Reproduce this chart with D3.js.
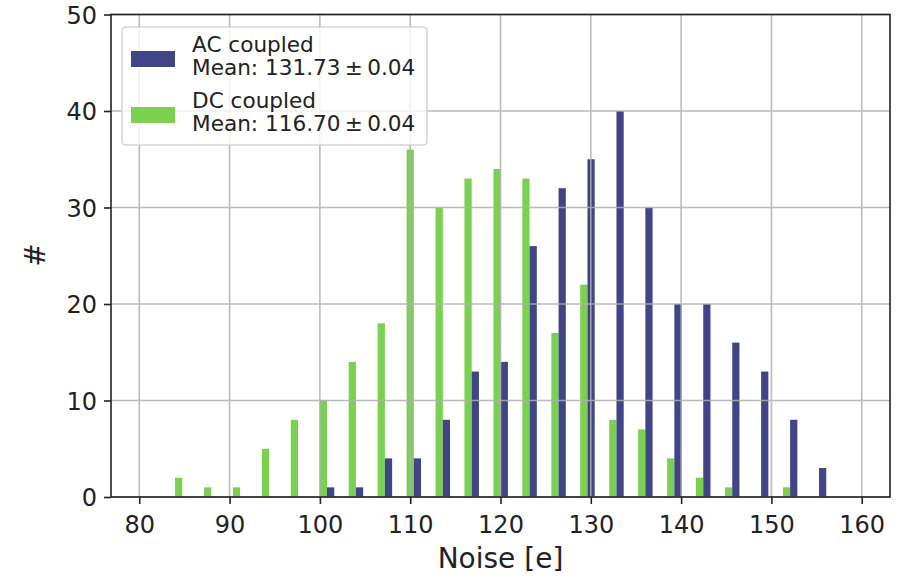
<!DOCTYPE html>
<html>
<head>
<meta charset="utf-8">
<script src="https://cdn.jsdelivr.net/npm/d3@7"></script>
<style>
  html, body { margin: 0; padding: 0; background: #fff; }
  svg { display: block; font-family: "DejaVu Sans", sans-serif; }
</style>
</head>
<body>
<svg id="chart" width="899" height="577"></svg>
<script>
// ---- data ----
const binCenters = [84.76, 87.97, 91.17, 94.38, 97.58, 100.79, 103.99, 107.20, 110.40, 113.61,
                    116.81, 120.02, 123.22, 126.43, 129.63, 132.84, 136.04, 139.25, 142.45,
                    145.66, 148.86, 152.07, 155.27];
const binWidth = 3.205;
const dcCounts = [2, 1, 1, 5, 8, 10, 14, 18, 36, 30, 33, 34, 33, 17, 22, 8, 7, 4, 2, 1, 0, 1, 0];
const acCounts = [0, 0, 0, 0, 0, 1, 1, 4, 4, 8, 13, 14, 26, 32, 35, 40, 30, 20, 20, 16, 13, 8, 3];
const seriesNames = ["AC coupled", "DC coupled"];
const seriesMeans = ["Mean: 131.73\u2009\u00B1\u20090.04", "Mean: 116.70\u2009\u00B1\u20090.04"];
const xTicks = [80, 90, 100, 110, 120, 130, 140, 150, 160];
const yTicks = [0, 10, 20, 30, 40, 50];
const xLabel = "Noise [e]";
const yLabel = "#";
const colors = { ac: "#414487", dc: "#7ad151" };

// ---- layout ----
const L = 111, R = 890, T = 14.5, B = 497;
const svg = d3.select("#chart");
const x = d3.scaleLinear().domain([76.87, 163.13]).range([L, R]);
const y = d3.scaleLinear().domain([0, 50]).range([B, T]);
const barW = x(binWidth) - x(0);
const half = barW * 0.25;

const bins = binCenters.map((c, i) => ({ c, dc: dcCounts[i], ac: acCounts[i] }));

// bars (below grid)
const gBars = svg.append("g");
gBars.selectAll("rect.dc").data(bins).join("rect")
  .attr("class", "dc")
  .attr("x", d => x(d.c) - half)
  .attr("width", half)
  .attr("y", d => y(d.dc))
  .attr("height", d => y(0) - y(d.dc))
  .attr("fill", colors.dc);
gBars.selectAll("rect.ac").data(bins).join("rect")
  .attr("class", "ac")
  .attr("x", d => x(d.c))
  .attr("width", half)
  .attr("y", d => y(d.ac))
  .attr("height", d => y(0) - y(d.ac))
  .attr("fill", colors.ac);

// grid
const gGrid = svg.append("g").attr("stroke", "#b0b0b0").attr("stroke-width", 1.6).attr("opacity", 0.85);
gGrid.selectAll("line.vx").data(xTicks).join("line")
  .attr("x1", d => x(d)).attr("x2", d => x(d)).attr("y1", T).attr("y2", B);
gGrid.selectAll("line.hy").data(yTicks).join("line")
  .attr("x1", L).attr("x2", R).attr("y1", d => y(d)).attr("y2", d => y(d));

// axes
const xAxis = d3.axisBottom(x).tickValues(xTicks).tickSize(7).tickPadding(7).tickFormat(d3.format("d"));
const yAxis = d3.axisLeft(y).tickValues(yTicks).tickSize(7).tickPadding(7).tickFormat(d3.format("d"));
const gx = svg.append("g").attr("transform", `translate(0,${B})`).call(xAxis);
const gy = svg.append("g").attr("transform", `translate(${L},0)`).call(yAxis);
[gx, gy].forEach(g => {
  g.select(".domain").remove();
  g.selectAll(".tick line").attr("stroke", "#222").attr("stroke-width", 1.6);
  g.selectAll(".tick text").attr("fill", "#222").attr("font-size", 24)
    .attr("font-family", "DejaVu Sans");
});
gx.selectAll(".tick text").attr("dy", null).attr("y", 36);
gy.selectAll(".tick text").attr("dy", "0.36em").attr("x", -14);

// spines
svg.append("rect").attr("x", L).attr("y", T).attr("width", R - L).attr("height", B - T)
  .attr("fill", "none").attr("stroke", "#222").attr("stroke-width", 1.6);

// axis labels
svg.append("text").attr("x", (L + R) / 2).attr("y", 568).attr("text-anchor", "middle")
  .attr("font-size", 28).attr("fill", "#222").text(xLabel);
svg.append("text").attr("transform", "translate(45,255) rotate(-90)").attr("text-anchor", "middle")
  .attr("font-size", 28).attr("fill", "#222").text(yLabel);

// legend
const lg = svg.append("g");
lg.append("rect").attr("x", 122).attr("y", 27).attr("width", 305).attr("height", 118)
  .attr("rx", 4).attr("fill", "#fff").attr("fill-opacity", 0.8)
  .attr("stroke", "#cccccc").attr("stroke-opacity", 0.8).attr("stroke-width", 1.6);
const legendItems = [
  { name: seriesNames[0], mean: seriesMeans[0], color: colors.ac, top: 51 },
  { name: seriesNames[1], mean: seriesMeans[1], color: colors.dc, top: 107 }
];
legendItems.forEach(it => {
  lg.append("rect").attr("x", 131).attr("y", it.top).attr("width", 44).attr("height", 16)
    .attr("fill", it.color);
  lg.append("text").attr("x", 192).attr("y", it.top + 1).attr("font-size", 21.6).attr("fill", "#222")
    .text(it.name);
  lg.append("text").attr("x", 192).attr("y", it.top + 24).attr("font-size", 21.6).attr("fill", "#222")
    .text(it.mean);
});
</script>
</body>
</html>
